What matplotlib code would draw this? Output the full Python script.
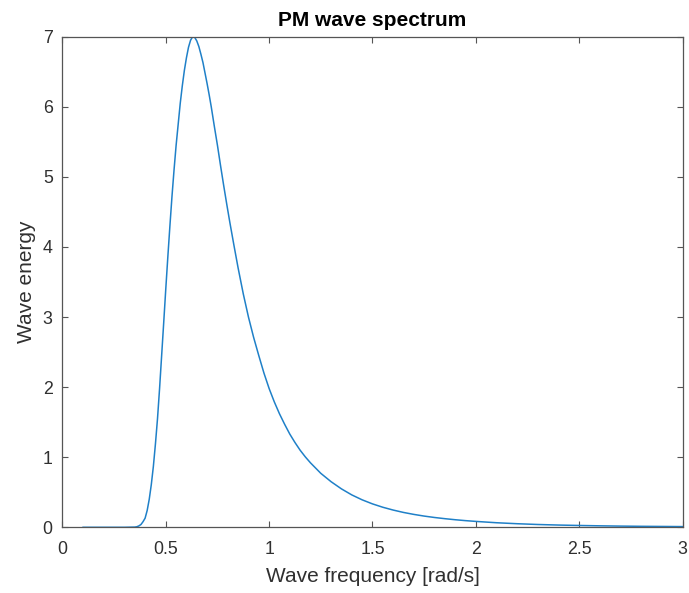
import matplotlib
matplotlib.use("Agg")
import matplotlib.pyplot as plt

freq = [0.10, 0.20, 0.30, 0.35, 0.36, 0.37, 0.38, 0.39, 0.40, 0.41, 0.42, 0.43,
        0.44, 0.45, 0.46, 0.47, 0.48, 0.49, 0.50, 0.51, 0.52, 0.53, 0.54, 0.55,
        0.56, 0.57, 0.58, 0.59, 0.60, 0.61, 0.62, 0.63, 0.64, 0.65, 0.66, 0.67,
        0.68, 0.69, 0.70, 0.71, 0.72, 0.735, 0.75, 0.765, 0.78, 0.795, 0.81, 0.83,
        0.85, 0.875, 0.90, 0.925, 0.95, 0.975, 1.00, 1.025, 1.05, 1.075, 1.10,
        1.125, 1.15, 1.175, 1.20, 1.25, 1.30, 1.35, 1.40, 1.45, 1.50, 1.55, 1.60,
        1.65, 1.70, 1.75, 1.80, 1.85, 1.90, 1.95, 2.00, 2.10, 2.20, 2.30, 2.40,
        2.50, 2.60, 2.70, 2.80, 2.90, 3.00]
energy = [0.0, 0.0, 0.0, 0.003, 0.008, 0.02, 0.04, 0.08, 0.13, 0.24, 0.40, 0.61,
          0.87, 1.19, 1.55, 1.98, 2.45, 2.92, 3.40, 3.86, 4.30, 4.72, 5.10, 5.45,
          5.75, 6.05, 6.30, 6.52, 6.70, 6.85, 6.95, 7.00, 6.99, 6.94, 6.86, 6.75,
          6.63, 6.48, 6.33, 6.17, 6.00, 5.72, 5.45, 5.16, 4.88, 4.61, 4.35, 4.02,
          3.70, 3.33, 3.00, 2.71, 2.45, 2.20, 1.98, 1.79, 1.62, 1.47, 1.33,
          1.21, 1.10, 1.005, 0.92, 0.77, 0.65, 0.548, 0.462, 0.392, 0.334, 0.286, 0.246,
          0.212, 0.184, 0.160, 0.140, 0.123, 0.108, 0.095, 0.084, 0.065, 0.051, 0.040, 0.032,
          0.026, 0.021, 0.017, 0.014, 0.012, 0.010]
xticks = [0, 0.5, 1, 1.5, 2, 2.5, 3]
xticklabels = ["0", "0.5", "1", "1.5", "2", "2.5", "3"]
yticks = [0, 1, 2, 3, 4, 5, 6, 7]

plt.rcParams['font.family'] = ['Liberation Sans', 'DejaVu Sans']
fig = plt.figure(figsize=(6.89, 5.93), dpi=100)
ax = fig.add_axes([0.0906, 0.1108, 0.9000, 0.8273])
ax.plot(freq, energy, color='#1f80c8', lw=1.1)
ax.set_xlim(0, 3)
ax.set_ylim(0, 7)
ax.set_xticks(xticks)
ax.set_xticklabels(xticklabels)
ax.set_yticks(yticks)
gray = '#303030'
for s in ax.spines.values():
    s.set_color('#555555')
    s.set_linewidth(0.9)
ax.tick_params(direction='in', top=True, right=True, length=4, width=0.8,
               colors='#555555', labelcolor=gray, labelsize=12.8)
ax.tick_params(axis='x', pad=10)
ax.tick_params(axis='y', pad=7)
ax.set_xlabel('Wave frequency [rad/s]', fontsize=15, color=gray, labelpad=6)
ax.set_ylabel('Wave energy', fontsize=15, color=gray, labelpad=5)
ax.set_title('PM wave spectrum', fontsize=15, fontweight='bold', color='black', pad=8)
fig.savefig('out.png', dpi=100)
